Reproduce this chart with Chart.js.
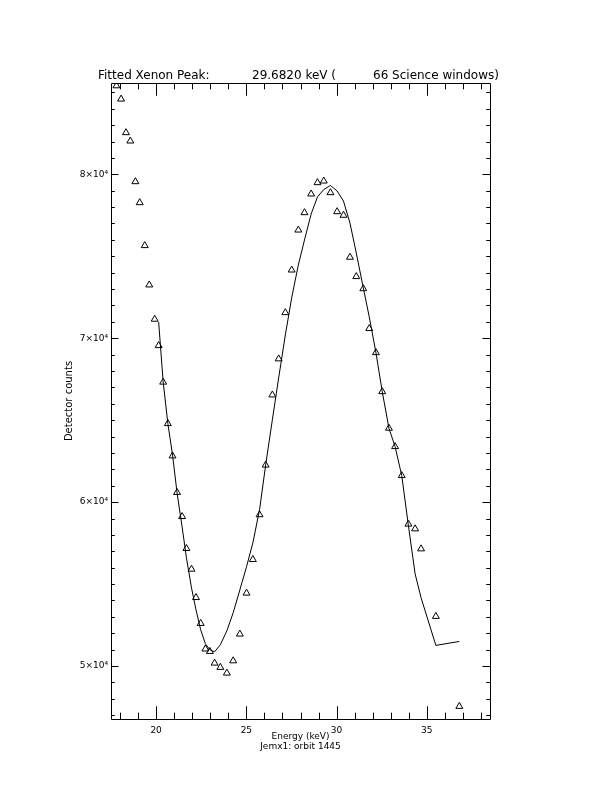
<!DOCTYPE html>
<html>
<head>
<meta charset="utf-8">
<title>Fitted Xenon Peak</title>
<script src="https://cdn.jsdelivr.net/npm/chart.js@4.4.1/dist/chart.umd.min.js"></script>
<style>
  html, body { margin: 0; padding: 0; background: #fff; }
  canvas { display: block; }
</style>
</head>
<body>
<canvas id="peakChart" width="612" height="792"></canvas>
<script>
// energy of each bin (keV) and the detector counts in it
const energy = [17.80, 18.06, 18.33, 18.57, 18.85, 19.09, 19.37, 19.62, 19.92, 20.14,
  20.39, 20.65, 20.91, 21.16, 21.44, 21.68, 21.96, 22.21, 22.47, 22.73,
  22.98, 23.24, 23.56, 23.92, 24.27, 24.64, 25.01, 25.36, 25.73, 26.07,
  26.44, 26.79, 27.16, 27.51, 27.88, 28.22, 28.59, 28.94, 29.29, 29.66,
  30.03, 30.38, 30.74, 31.09, 31.48, 31.81, 32.18, 32.53, 32.90, 33.24,
  33.61, 33.98, 34.35, 34.68, 35.50, 36.80];
const counts = [85400, 84590, 82540, 82030, 79550, 78270, 75650, 73250, 71160, 69550,
  67320, 64790, 62820, 60590, 59120, 57170, 55910, 54180, 52600, 51040,
  50890, 50180, 49920, 49570, 50320, 51950, 54450, 56500, 59230, 62260,
  66540, 68740, 71560, 74160, 76600, 77660, 78800, 79490, 79590, 78880,
  77720, 77500, 74940, 73760, 73020, 70590, 69120, 66740, 64510, 63390,
  61620, 58660, 58370, 57150, 53030, 47540];
// fitted model, only evaluated from the 10th bin on
const fitStart = 9;
const fitCounts = [70990, 67340, 64800, 62880, 60570, 58490, 56600, 54770, 53430, 52210,
  51360, 50990, 50870, 51300, 52150, 53250, 54650, 56060, 57520, 59530,
  62270, 65020, 67580, 70200, 72460, 74470, 75990, 77580, 78620, 79070,
  79320, 78980, 78370, 77030, 75200, 73070, 71300, 69120, 66740, 64510,
  63390, 61620, 58560, 55630, 54170, 51260, 51500];
const xTicks = [20, 25, 30, 35];
const yTicks = [50000, 60000, 70000, 80000];

const points = energy.map((e, i) => ({ x: e, y: counts[i] }));
const fit = fitCounts.map((c, i) => ({ x: energy[fitStart + i], y: c }));

const sup = { 1: "¹", 2: "²", 3: "³", 4: "⁴", 5: "⁵" };
const expLabel = v => (v / 10000) + "×10" + sup[4];

// IDL style box: ticks on all four sides, pointing inwards
const frame = {
  id: "frame",
  afterDraw(chart) {
    const { ctx, chartArea: a, scales: { x, y } } = chart;
    const w = a.right - a.left, h = a.bottom - a.top;
    const px = v => Math.round(v) + 0.5;
    ctx.save();
    ctx.strokeStyle = "#000";
    ctx.lineWidth = 1;
    ctx.beginPath();
    ctx.rect(px(a.left), px(a.top), Math.round(w), Math.round(h));
    for (let v = Math.ceil(x.min); v <= x.max; v++) {
      const len = (v % 5 === 0 ? 0.02 : 0.01) * h;
      const xp = px(x.getPixelForValue(v));
      ctx.moveTo(xp, a.bottom); ctx.lineTo(xp, a.bottom - len);
      ctx.moveTo(xp, a.top); ctx.lineTo(xp, a.top + len);
    }
    for (let v = Math.ceil(y.min / 1000) * 1000; v <= y.max; v += 1000) {
      const len = (v % 10000 === 0 ? 0.02 : 0.01) * w;
      const yp = px(y.getPixelForValue(v));
      ctx.moveTo(a.left, yp); ctx.lineTo(a.left + len, yp);
      ctx.moveTo(a.right, yp); ctx.lineTo(a.right - len, yp);
    }
    ctx.stroke();

    // title, laid out in its three fields
    ctx.fillStyle = "#000";
    ctx.font = "12px 'DejaVu Sans'";
    ctx.textBaseline = "middle";
    ctx.fillText("Fitted Xenon Peak:", 98, 76);
    ctx.fillText("29.6820 keV (", 252, 76);
    ctx.fillText("66 Science windows)", 373, 76);
    ctx.restore();
  }
};

const ctx = document.getElementById("peakChart").getContext("2d");
new Chart(ctx, {
  type: "scatter",
  data: {
    datasets: [{
      label: "Counts",
      data: points,
      pointStyle: "triangle",
      pointRadius: 4,
      borderColor: "#000",
      backgroundColor: "rgba(0,0,0,0)",
      borderWidth: 1
    }, {
      label: "Fit",
      data: fit,
      showLine: true,
      pointRadius: 0,
      borderColor: "#000",
      borderWidth: 1,
      tension: 0
    }]
  },
  options: {
    responsive: false,
    animation: false,
    devicePixelRatio: 1,
    layout: { padding: { left: 0, top: 83, right: 122, bottom: 40 } },
    plugins: {
      legend: { display: false },
      tooltip: { enabled: false }
    },
    scales: {
      x: {
        type: "linear",
        min: 17.5,
        max: 38.5,
        grid: { display: false, drawTicks: false },
        border: { display: false },
        afterBuildTicks: s => { s.ticks = xTicks.map(v => ({ value: v })); },
        afterFit: s => { s.height = 33; },
        ticks: {
          color: "#000",
          padding: 6,
          maxRotation: 0,
          font: { family: "DejaVu Sans", size: 9 }
        },
        title: {
          display: true,
          text: ["Energy (keV)", "Jemx1: orbit 1445"],
          color: "#000",
          padding: { top: 0, bottom: 0 },
          font: { family: "DejaVu Sans", size: 9, lineHeight: 1.1 }
        }
      },
      y: {
        type: "linear",
        min: 46770,
        max: 85570,
        grid: { display: false, drawTicks: false },
        border: { display: false },
        afterBuildTicks: s => { s.ticks = yTicks.map(v => ({ value: v })); },
        afterFit: s => { s.width = 111; },
        ticks: {
          color: "#000",
          padding: 3,
          callback: v => expLabel(v),
          font: { family: "DejaVu Sans", size: 9 }
        },
        title: {
          display: true,
          text: "Detector counts",
          color: "#000",
          padding: { top: 63, bottom: 0 },
          font: { family: "DejaVu Sans", size: 10, lineHeight: 1.2 }
        }
      }
    }
  },
  plugins: [frame]
});
</script>
</body>
</html>
